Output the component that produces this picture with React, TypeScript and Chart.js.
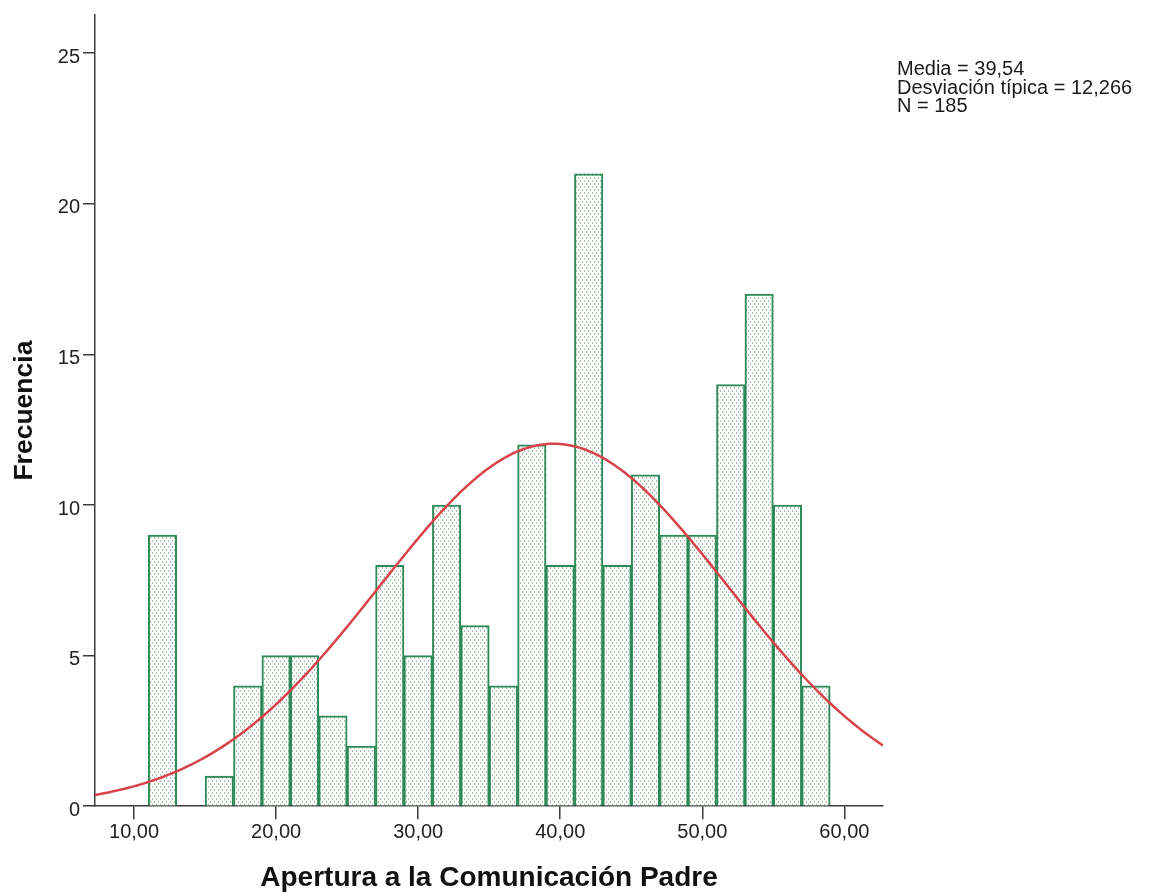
import React, { useEffect, useRef } from "react";
import { Chart, registerables } from "chart.js";

Chart.register(...registerables);

// Histogram bins: first bin starts at 11, each bin is 2 units wide
const BIN_START = 11;
const BIN_WIDTH = 2;
const binCounts = [9, 0, 1, 4, 5, 5, 3, 2, 8, 5, 10, 6, 4, 12, 8, 21, 8, 11, 9, 9, 14, 17, 10, 4];

// Summary statistics shown at the upper right and used for the normal curve
const MEAN = 39.54;
const SD = 12.266;
const N = 185;

// Axis ranges and ticks
const X_MIN = 7.25;
const X_MAX = 62.72;
const Y_MAX = 26.27;
const xTickValues = [10, 20, 30, 40, 50, 60];
const yTickValues = [0, 5, 10, 15, 20, 25];

const X_TITLE = "Apertura a la Comunicación Padre";
const Y_TITLE = "Frecuencia";

const fmt = (v: number, d: number) => v.toFixed(d).replace(".", ",");
const statLines = [
  `Media = ${fmt(MEAN, 2)}`,
  `Desviación típica = ${fmt(SD, 3)}`,
  `N = ${N}`,
];

const FONT = '"Liberation Sans", Arial, Helvetica, sans-serif';

// Expected frequency per bin under a normal distribution with the given mean / sd
function normalCurve(steps: number) {
  const pts: { x: number; y: number }[] = [];
  const scale = (N * BIN_WIDTH) / (SD * Math.sqrt(2 * Math.PI));
  for (let i = 0; i <= steps; i++) {
    const x = X_MIN + ((X_MAX - X_MIN) * i) / steps;
    const z = (x - MEAN) / SD;
    pts.push({ x, y: scale * Math.exp(-0.5 * z * z) });
  }
  return pts;
}

// Light dotted fill for the bars
function makeDotPattern(ctx: CanvasRenderingContext2D) {
  const c = document.createElement("canvas");
  c.width = 4;
  c.height = 6;
  const p = c.getContext("2d")!;
  p.fillStyle = "#fbfdfb";
  p.fillRect(0, 0, 4, 6);
  p.fillStyle = "#a8bcb0";
  p.fillRect(0, 0, 1, 2);
  p.fillRect(2, 3, 1, 2);
  return ctx.createPattern(c, "repeat");
}

const statsPlugin = {
  id: "statsText",
  afterDraw(chart: any) {
    const { ctx, chartArea } = chart;
    ctx.save();
    ctx.font = `20px ${FONT}`;
    ctx.fillStyle = "#1a1a1a";
    ctx.textAlign = "left";
    ctx.textBaseline = "alphabetic";
    statLines.forEach((t, i) => {
      ctx.fillText(t, chartArea.right + 14, chartArea.top + 60 + i * 18.5);
    });
    ctx.restore();
  },
};

export default function App() {
  const canvasRef = useRef<HTMLCanvasElement | null>(null);

  useEffect(() => {
    document.body.style.margin = "0";
    const canvas = canvasRef.current!;
    const ctx = canvas.getContext("2d")!;
    const pattern = makeDotPattern(ctx);

    const bars = binCounts.map((c, i) => ({
      x: BIN_START + BIN_WIDTH * i + BIN_WIDTH / 2,
      y: c > 0 ? c : null,
    }));

    const axisColor = "#3a3a3a";

    const chart = new Chart(ctx, {
      type: "bar",
      data: {
        datasets: [
          {
            type: "line",
            data: normalCurve(300),
            borderColor: "#d8434a",
            borderWidth: 2.5,
            pointRadius: 0,
            fill: false,
            tension: 0,
            order: 0,
          } as any,
          {
            type: "bar",
            data: bars as any,
            backgroundColor: pattern as any,
            borderColor: "#2b8a57",
            borderWidth: 2,
            barPercentage: 1,
            categoryPercentage: 1,
            order: 1,
          },
        ],
      },
      plugins: [statsPlugin],
      options: {
        responsive: false,
        animation: false,
        events: [],
        layout: { padding: { left: 0, top: 15, right: 271, bottom: 1 } },
        plugins: { legend: { display: false }, tooltip: { enabled: false } },
        scales: {
          x: {
            type: "linear",
            min: X_MIN,
            max: X_MAX,
            offset: false,
            afterBuildTicks: (s: any) => {
              s.ticks = xTickValues.map((v) => ({ value: v }));
            },
            afterFit: (s: any) => {
              s.height = 88.8;
            },
            grid: {
              display: true,
              drawOnChartArea: false,
              drawTicks: true,
              tickLength: 13,
              color: axisColor,
              lineWidth: 1.5,
              offset: false,
            },
            border: { display: true, color: axisColor, width: 1.5 },
            ticks: {
              padding: 1,
              color: "#222",
              font: { family: FONT, size: 20 },
              maxRotation: 0,
              callback: (v: any) => fmt(Number(v), 2),
            },
            title: {
              display: true,
              text: X_TITLE,
              color: "#111",
              padding: 0,
              font: { family: FONT, size: 28, weight: "bold" },
            },
          },
          y: {
            type: "linear",
            min: 0,
            max: Y_MAX,
            afterBuildTicks: (s: any) => {
              s.ticks = yTickValues.map((v) => ({ value: v }));
            },
            afterFit: (s: any) => {
              s.width = 95;
            },
            grid: {
              display: true,
              drawOnChartArea: false,
              drawTicks: true,
              tickLength: 12,
              color: axisColor,
              lineWidth: 1.5,
            },
            border: { display: true, color: axisColor, width: 1.5 },
            ticks: {
              padding: 3,
              labelOffset: 4,
              color: "#222",
              font: { family: FONT, size: 20 },
              callback: (v: any) => String(v),
            },
            title: {
              display: true,
              text: Y_TITLE,
              color: "#111",
              padding: { top: 8.4, bottom: 0 },
              font: { family: FONT, size: 26.5, weight: "bold" },
            },
          },
        },
      },
    });

    return () => chart.destroy();
  }, []);

  return (
    <div style={{ position: "absolute", left: 0, top: 0, width: 1154, height: 896, background: "#fff" }}>
      <canvas ref={canvasRef} width={1154} height={896} />
    </div>
  );
}
